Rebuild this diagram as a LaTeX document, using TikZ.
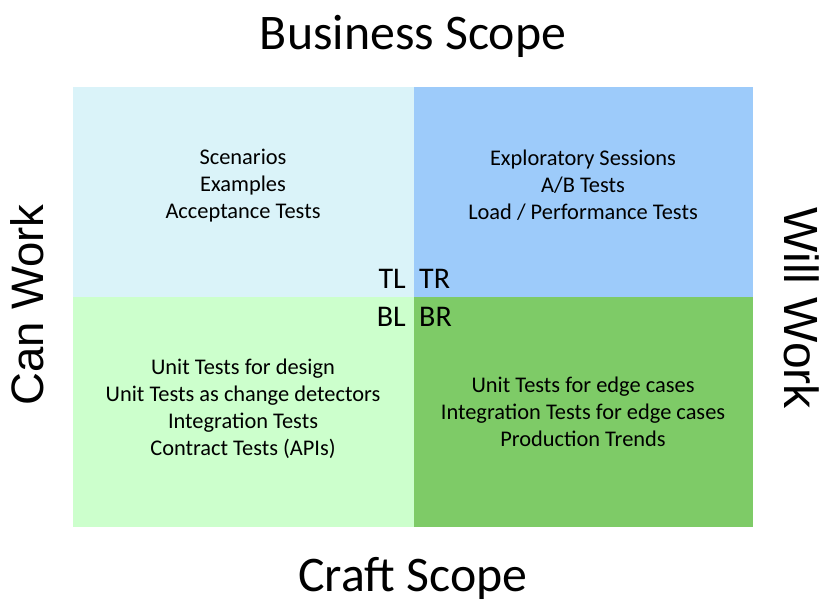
\documentclass[tikz,border=0pt]{standalone}
\usepackage{fontspec}
\setmainfont{Carlito}
\newfontfamily\arialf{Liberation Sans}
\definecolor{tlc}{HTML}{DAF3F9}
\definecolor{trc}{HTML}{9DCBFA}
\definecolor{blc}{HTML}{CCFFCC}
\definecolor{brc}{HTML}{7ECB67}
\begin{document}
\begin{tikzpicture}[x=1pt,y=-1pt,
  qtext/.style={align=center,font=\fontsize{22.4}{27}\selectfont,inner sep=0pt},
  corner/.style={font=\fontsize{30}{30}\selectfont,inner sep=0pt},
  title/.style={font=\fontsize{49.8}{50}\selectfont,inner sep=0pt},
  side/.style={font=\arialf\fontsize{45.5}{46}\selectfont,inner sep=0pt}]
\useasboundingbox (0,0) rectangle (828,608);
\fill[tlc] (73,87) rectangle (414,297);
\fill[trc] (414,87) rectangle (753,297);
\fill[blc] (73,297) rectangle (414,527);
\fill[brc] (414,297) rectangle (753,527);
\node[title] (bs) at (413,36) {Business Scope};
\node[title] (cs) at (413,578) {Craft Scope};
\node[side,rotate=90] (cw) at (27,305) {Can Work};
\node[side,font=\arialf\fontsize{48}{48}\selectfont,rotate=-90] (ww) at (802,308) {Will Work};
\node[qtext] (tl) at (243,186) {Scenarios\\Examples\\Acceptance Tests};
\node[qtext] (tr) at (583,185) {Exploratory Sessions\\A/B Tests\\Load / Performance Tests};
\node[qtext] (bl) at (243,409) {Unit Tests for design\\Unit Tests as change detectors\\Integration Tests\\Contract Tests (APIs)};
\node[qtext] (br) at (583,412) {Unit Tests for edge cases\\Integration Tests for edge cases\\Production Trends};
\node[corner,anchor=east] (ltl) at (406,279) {TL};
\node[corner,anchor=west] (ltr) at (419,279) {TR};
\node[corner,anchor=east] (lbl) at (406,317) {BL};
\node[corner,anchor=west] (lbr) at (419,317) {BR};
\end{tikzpicture}
\end{document}
